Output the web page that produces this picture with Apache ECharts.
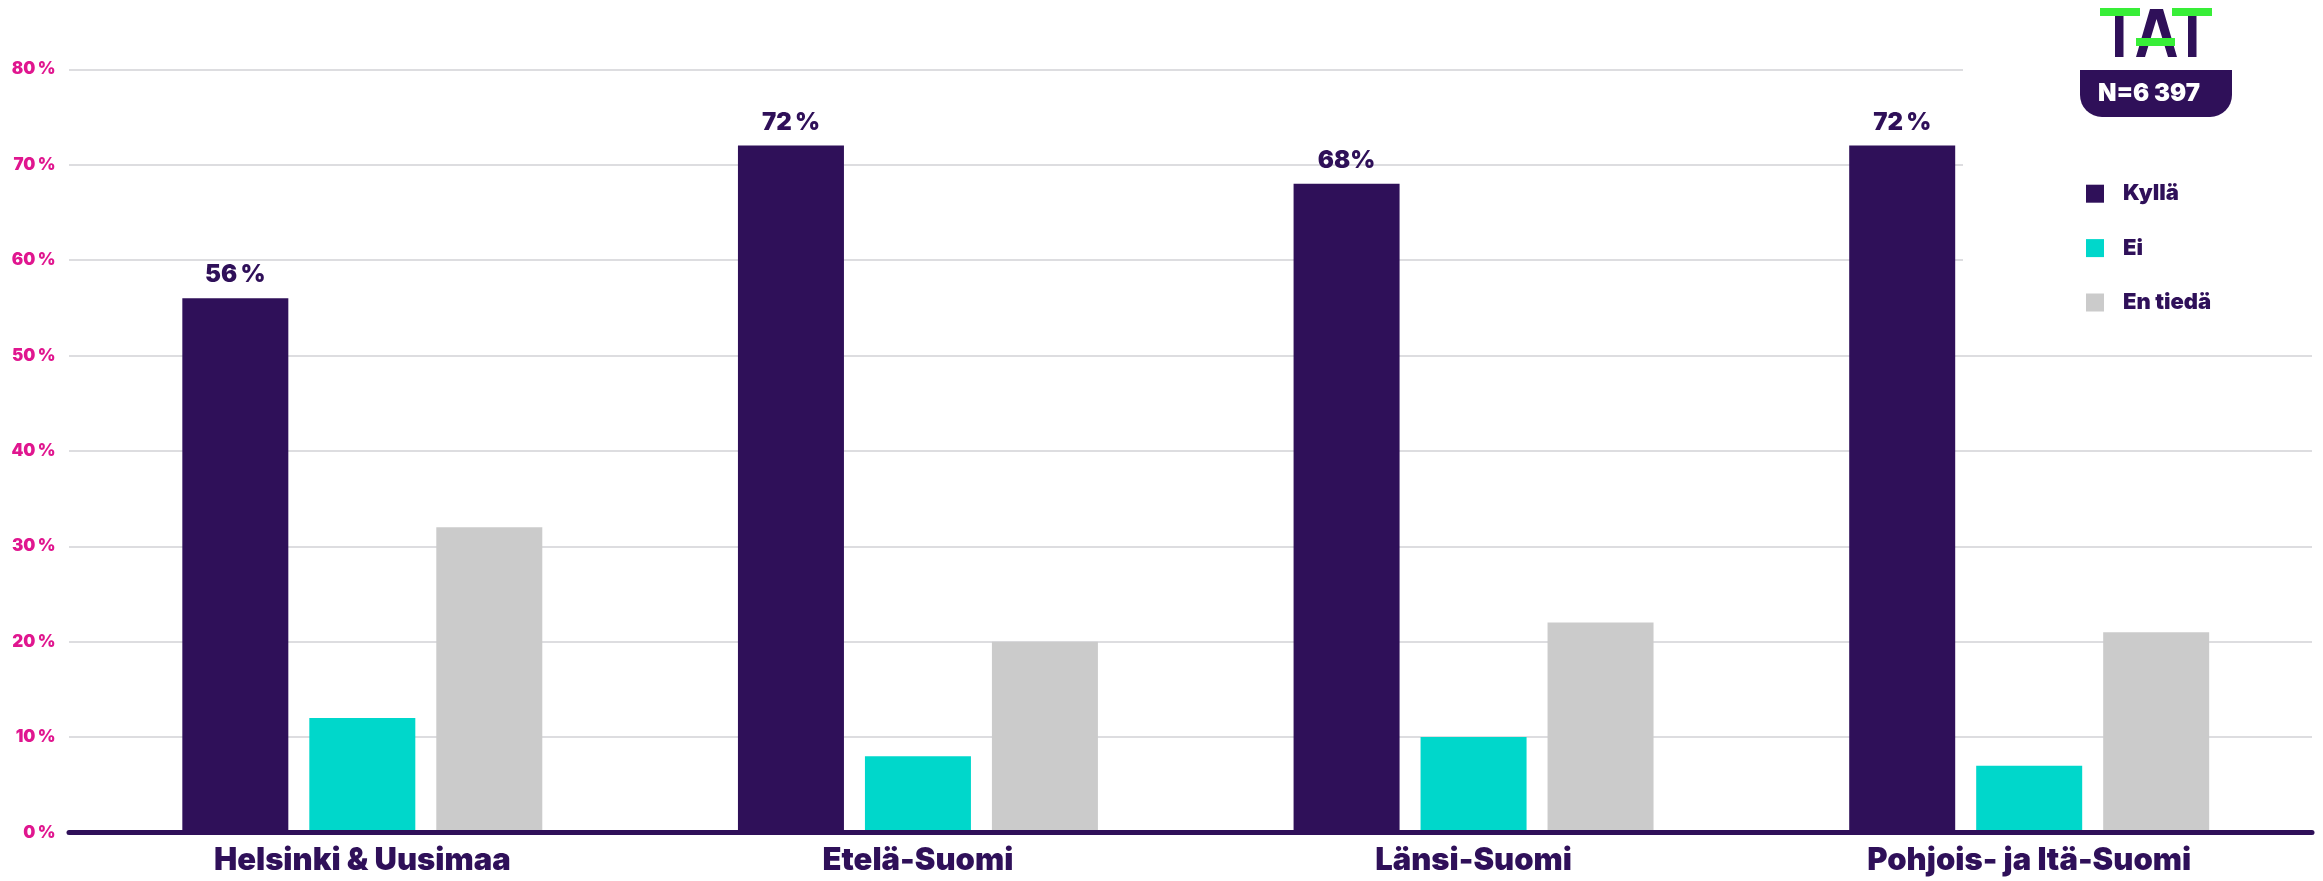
<!DOCTYPE html>
<html>
<head>
<meta charset="utf-8">
<script src="https://cdn.jsdelivr.net/npm/echarts@6/dist/echarts.min.js"></script>
<style>
html,body{margin:0;padding:0;background:#fff;}
#chart{width:2323px;height:881px;}
</style>
</head>
<body>
<div id="chart"></div>
<script>
// ---- data ----
const categories = ['Helsinki & Uusimaa', 'Etelä-Suomi', 'Länsi-Suomi', 'Pohjois- ja Itä-Suomi'];
const seriesNames = ['Kyllä', 'Ei', 'En tiedä'];
const kylla = [56, 72, 68, 72];
const ei = [12, 8, 10, 7];
const enTieda = [32, 20, 22, 21];
const kyllaLabels = ['56\u2009%', '72\u2009%', '68%', '72\u2009%'];
const yTicks = [0, 10, 20, 30, 40, 50, 60, 70, 80];
const sampleText = 'N=6 397';

const DARK = '#2f1059';
const TEAL = '#00d7cb';
const GREY = '#cbcbcb';
const PINK = '#e0168f';
const GREEN = '#38ee38';
const GRID = '#d2d2d6';
const FONT = 'Inter';

const chart = echarts.init(document.getElementById('chart'), null, {renderer: 'canvas'});

const yMin = yTicks[0], yMax = yTicks[yTicks.length - 1], yStep = yTicks[1] - yTicks[0];

const option = {
  backgroundColor: '#ffffff',
  animation: false,
  grid: [
    {left: 84.5, right: 16, top: 69.3, bottom: 48.5},          // bars
    {left: 69, right: 11, top: 355.5, bottom: 48.5},           // lower grid lines + axis line
    {left: 69, right: 360, top: 69.3, bottom: 620.9}           // upper (shortened) grid lines
  ],
  xAxis: [
    {
      gridIndex: 0, type: 'category', data: categories,
      axisLine: {show: false}, axisTick: {show: false},
      axisLabel: {color: DARK, fontFamily: FONT, fontWeight: 900, fontSize: 31, margin: 13}
    },
    {
      gridIndex: 1, type: 'value', min: 0, max: 1, z: 10,
      axisLine: {show: true, onZero: false, lineStyle: {color: DARK, width: 5}},
      axisTick: {show: false}, axisLabel: {show: false}, splitLine: {show: false}
    },
    {
      gridIndex: 2, type: 'value', min: 0, max: 1,
      axisLine: {show: false}, axisTick: {show: false}, axisLabel: {show: false}, splitLine: {show: false}
    }
  ],
  yAxis: [
    {
      gridIndex: 0, type: 'value', min: yMin, max: yMax, interval: yStep,
      axisLine: {show: false}, axisTick: {show: false}, splitLine: {show: false},
      axisLabel: {color: PINK, fontFamily: FONT, fontWeight: 900, fontSize: 17, margin: 29,
        formatter: v => v + '\u2009%'}
    },
    {
      gridIndex: 1, type: 'value', min: yTicks[0], max: yTicks[5], interval: yStep,
      axisLine: {show: false}, axisTick: {show: false}, axisLabel: {show: false},
      splitLine: {show: true, lineStyle: {color: GRID, width: 1.5}}
    },
    {
      gridIndex: 2, type: 'value', min: yTicks[6], max: yTicks[8], interval: yStep,
      axisLine: {show: false}, axisTick: {show: false}, axisLabel: {show: false},
      splitLine: {show: true, lineStyle: {color: GRID, width: 1.5}}
    }
  ],
  legend: {
    orient: 'vertical', left: 2081, top: 177.7,
    icon: 'rect', itemWidth: 18, itemHeight: 18, itemGap: 32.4,
    data: seriesNames,
    textStyle: {color: DARK, fontFamily: FONT, fontWeight: 900, fontSize: 22, lineHeight: 22, padding: [0, 0, 0, 14]}
  },
  series: [
    {
      name: seriesNames[0], type: 'bar', xAxisIndex: 0, yAxisIndex: 0,
      data: kylla, barWidth: 106, barGap: '19.8%',
      itemStyle: {color: DARK},
      label: {show: true, position: 'top', distance: 11, color: DARK, fontFamily: FONT,
        fontWeight: 900, fontSize: 24, formatter: p => kyllaLabels[p.dataIndex]}
    },
    {
      name: seriesNames[1], type: 'bar', xAxisIndex: 0, yAxisIndex: 0,
      data: ei, barWidth: 106, barGap: '19.8%',
      itemStyle: {color: TEAL}
    },
    {
      name: seriesNames[2], type: 'bar', xAxisIndex: 0, yAxisIndex: 0,
      data: enTieda, barWidth: 106, barGap: '19.8%',
      itemStyle: {color: GREY}
    },
    {type: 'line', xAxisIndex: 1, yAxisIndex: 1, data: [], silent: true},
    {type: 'line', xAxisIndex: 2, yAxisIndex: 2, data: [], silent: true}
  ],
  graphic: [
    // TAT logo
    {type: 'rect', shape: {x: 2115, y: 14, width: 8.5, height: 43}, style: {fill: DARK}, z: 20},
    {type: 'rect', shape: {x: 2188, y: 14, width: 8.5, height: 43}, style: {fill: DARK}, z: 20},
    {type: 'polygon', shape: {points: [[2136, 57], [2150, 9], [2163, 9], [2177, 57], [2168, 57], [2156.5, 19], [2145, 57]]}, style: {fill: DARK}, z: 20},
    {type: 'rect', shape: {x: 2100, y: 8, width: 40, height: 8}, style: {fill: GREEN}, z: 21},
    {type: 'rect', shape: {x: 2172, y: 8, width: 40, height: 8}, style: {fill: GREEN}, z: 21},
    {type: 'rect', shape: {x: 2136, y: 38, width: 39, height: 8}, style: {fill: GREEN}, z: 21},
    // N box
    {type: 'rect', shape: {x: 2080, y: 70, width: 152, height: 47, r: [0, 0, 22, 22]}, style: {fill: DARK}, z: 20},
    {type: 'text', x: 2149, y: 94, z: 21,
      style: {text: sampleText, fill: '#ffffff', font: '900 24px Inter', align: 'center', verticalAlign: 'middle'}}
  ]
};

chart.setOption(option);
</script>
</body>
</html>
